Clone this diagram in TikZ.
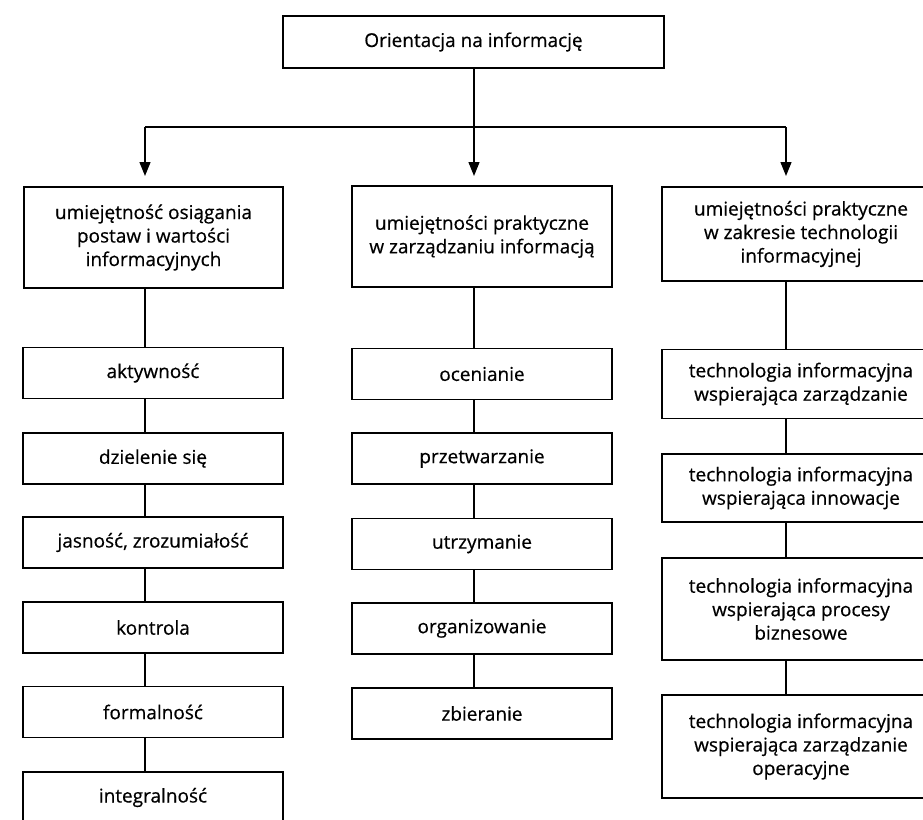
\documentclass[tikz,border=0pt]{standalone}
\usepackage{fontspec}
\setmainfont{Open Sans}
\newfontfamily\boxfont[FakeBold=0.5]{Open Sans}
\usetikzlibrary{arrows.meta}
\begin{document}
\begin{tikzpicture}[x=1pt,y=-1pt,
  box/.style={draw=black,line width=1.5pt,fill=white,inner sep=0pt,align=center,
    font=\boxfont\fontsize{19}{23.5}\selectfont},
  lbox/.style={box,minimum width=260pt,minimum height=51pt},
  mbox/.style={box,minimum width=260pt,minimum height=51pt},
  rbox/.style={box,minimum width=278pt},
  conn/.style={line width=1.3pt},
  arr/.style={line width=1.3pt,-{Triangle[length=14pt,width=11pt]}}]
\useasboundingbox (0,0) rectangle (923,819);
\fill[white] (0,0) rectangle (923,819);
% top
\node[box,minimum width=381pt,minimum height=52pt] (top) at (473.5,42) {Orientacja na informację};
% level 1
\node[box,minimum width=259pt,minimum height=101pt] (a0) at (153.5,237.5) {umiejętność osiągania\\postaw i wartości\\informacyjnych};
\node[box,minimum width=260pt,minimum height=101pt] (b0) at (482,236.5) {umiejętności praktyczne\\w zarządzaniu informacją};
\node[rbox,minimum height=94pt] (c0) at (801,234) {umiejętności praktyczne\\w zakresie technologii\\informacyjnej};
% left column
\node[lbox] (a1) at (153,373) {aktywność};
\node[lbox] (a2) at (153,458.5) {dzielenie się};
\node[lbox] (a3) at (153,542.5) {jasność, zrozumiałość};
\node[lbox] (a4) at (153,627.5) {kontrola};
\node[lbox] (a5) at (153,712) {formalność};
\node[lbox] (a6) at (153,797.5) {integralność};
% middle column
\node[mbox] (b1) at (482,374) {ocenianie};
\node[mbox] (b2) at (482,458.5) {przetwarzanie};
\node[mbox] (b3) at (482,544) {utrzymanie};
\node[mbox] (b4) at (482,628.5) {organizowanie};
\node[mbox] (b5) at (482,713.5) {zbieranie};
% right column
\node[rbox,minimum height=69pt] (c1) at (801,384) {technologia informacyjna\\wspierająca zarządzanie};
\node[rbox,minimum height=68pt] (c2) at (801,488) {technologia informacyjna\\wspierająca innowacje};
\node[rbox,minimum height=102pt] (c3) at (801,609) {technologia informacyjna\\wspierająca procesy\\biznesowe};
\node[rbox,minimum height=103pt] (c4) at (801,746.5) {technologia informacyjna\\wspierająca zarządzanie\\operacyjne};
% connector guides
\coordinate (hl) at (0,127);
\coordinate (cL) at (145,0);
\coordinate (cM) at (474,0);
\coordinate (cR) at (786,0);
\coordinate (tL) at (145,176);
\coordinate (tM) at (474,176);
\coordinate (tR) at (786,176);
% top connectors
\draw[conn] (top.south -| cM) -- (cM |- hl);
\draw[conn] (cL |- hl) -- (cR |- hl);
\draw[arr] (cL |- hl) -- (tL);
\draw[arr] (cM |- hl) -- (tM);
\draw[arr] (cR |- hl) -- (tR);
% column connectors
\foreach \u/\v in {a0/a1,a1/a2,a2/a3,a3/a4,a4/a5,a5/a6}
  \draw[conn] (\u.south -| cL) -- (\v.north -| cL);
\foreach \u/\v in {b0/b1,b1/b2,b2/b3,b3/b4,b4/b5}
  \draw[conn] (\u.south -| cM) -- (\v.north -| cM);
\foreach \u/\v in {c0/c1,c1/c2,c2/c3,c3/c4}
  \draw[conn] (\u.south -| cR) -- (\v.north -| cR);
\end{tikzpicture}
\end{document}
